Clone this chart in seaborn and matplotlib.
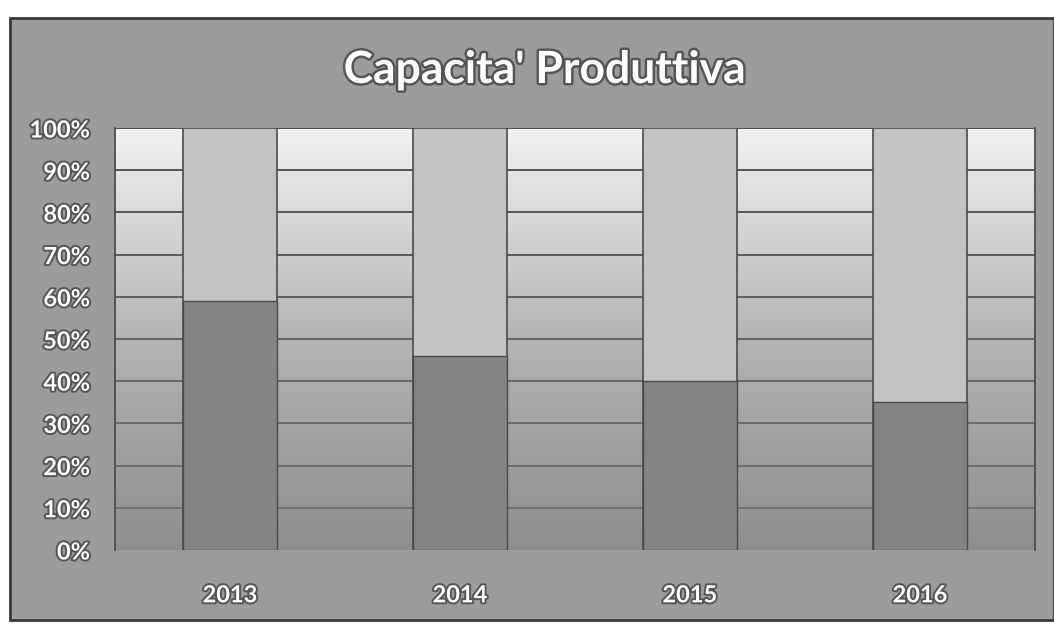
import numpy as np
import pandas as pd
import matplotlib
matplotlib.use("Agg")
import matplotlib.pyplot as plt
import matplotlib.patheffects as pe
from matplotlib.patches import Rectangle
from matplotlib.colors import LinearSegmentedColormap, to_rgb
from matplotlib.ticker import FuncFormatter
import seaborn as sns

# Capacità produttiva: quota utilizzata sul totale (100%)
years = ["2013", "2014", "2015", "2016"]
used = [59, 46, 40, 35]
total = [100, 100, 100, 100]
y_ticks = [0, 10, 20, 30, 40, 50, 60, 70, 80, 90, 100]
title = "Capacita' Produttiva"

df = pd.DataFrame({"anno": years, "utilizzata": used, "totale": total})

sns.set_theme(style="white")
plt.rcParams["font.family"] = ["Lato", "DejaVu Sans"]

W, H = 1054, 631
fig = plt.figure(figsize=(W / 100, H / 100), dpi=100, facecolor="white")

# grey chart frame, kept behind the axes
frame = Rectangle((10 / W, 11 / H), 1 - 10 / W, (620 - 18) / H,
                  transform=fig.transFigure, facecolor="#9c9c9c",
                  edgecolor="#3a3a3a", linewidth=2.0, zorder=-10)
fig.add_artist(frame)

ax = fig.add_axes([115 / W, (H - 550) / H, (1035 - 115) / W, (550 - 128) / H])
ax.set_zorder(1)
ax.set_facecolor("none")

light = "#c3c3c3"
dark = "#848484"
edge = "#4a4a4a"

sns.barplot(data=df, x="anno", y="totale", color=light, width=0.41,
            saturation=1, edgecolor=edge, linewidth=1.2, errorbar=None,
            ax=ax, zorder=3)
sns.barplot(data=df, x="anno", y="utilizzata", color=dark, width=0.41,
            saturation=1, edgecolor=edge, linewidth=1.0, errorbar=None,
            ax=ax, zorder=4)

# plot area: vertical gradient, light at the top, darker towards the base
grad_cmap = LinearSegmentedColormap.from_list("plotarea", ["#8e8e8e", "#b4b4b4", "#f2f2f2"])
grad = np.linspace(0, 1, 256).reshape(-1, 1)
ax.imshow(grad, cmap=grad_cmap, origin="lower", aspect="auto",
          extent=(-0.5, len(years) - 0.5, 0, 100), zorder=0)

# gridlines fade as the background darkens towards the base
top_c, low_c = np.array(to_rgb("#444444")), np.array(to_rgb("#747474"))
for t in y_ticks[1:]:
    f = t / 100
    ax.axhline(t, color=tuple(low_c + (top_c - low_c) * f), linewidth=1.3, zorder=1)

ax.set_xlim(-0.5, len(years) - 0.5)
ax.set_ylim(0, 100)
ax.set_yticks(y_ticks)
ax.yaxis.set_major_formatter(FuncFormatter(lambda v, _: f"{v:.0f}%"))
ax.set_xlabel("")
ax.set_ylabel("")

for side in ["top", "bottom"]:
    ax.spines[side].set_visible(False)
for side in ["left", "right"]:
    ax.spines[side].set_visible(True)
    ax.spines[side].set_color("#4d4d4d")
    ax.spines[side].set_linewidth(1.3)

shadow = [pe.withStroke(linewidth=2.8, foreground="#555555")]
ax.tick_params(axis="y", length=0, pad=18, labelsize=17, labelcolor="white")
ax.tick_params(axis="x", length=0, pad=24, labelsize=17, labelcolor="white")
for lab in ax.get_yticklabels() + ax.get_xticklabels():
    lab.set_fontweight("bold")
    lab.set_path_effects(shadow)

fig.text(545 / W, (H - 70) / H, title, ha="center", va="center",
         fontsize=32, fontweight="bold", color="white",
         path_effects=[pe.withStroke(linewidth=3.5, foreground="#555555")])

fig.savefig("out.png", dpi=100, facecolor=fig.get_facecolor())
